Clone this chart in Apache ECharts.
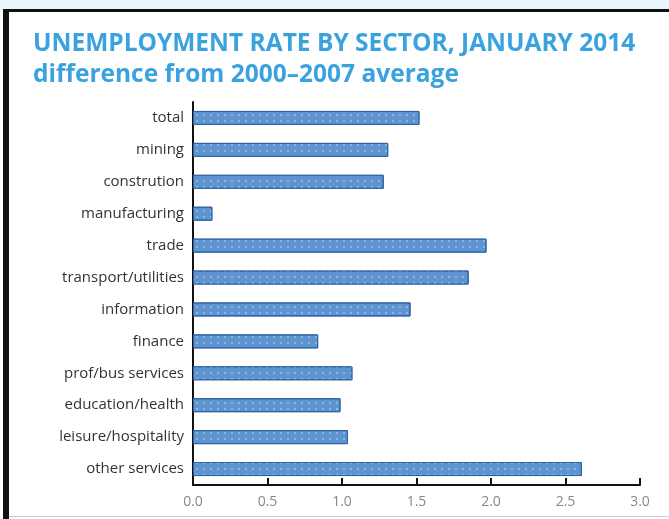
<!DOCTYPE html>
<html><head><meta charset="utf-8">
<script src="https://cdn.jsdelivr.net/npm/echarts@6/dist/echarts.min.js"></script>
<style>html,body{margin:0;padding:0;background:#fff}#c{width:669px;height:519px}</style>
</head><body><div id="c"></div>
<script>
const categories = ['total','mining','constrution','manufacturing','trade','transport/utilities','information','finance','prof/bus services','education/health','leisure/hospitality','other services'];
const values = [1.52,1.31,1.28,0.13,1.97,1.85,1.46,0.84,1.07,0.99,1.04,2.61];
const xTicks = [0,0.5,1.0,1.5,2.0,2.5,3.0];

const chart = echarts.init(document.getElementById('c'));
chart.setOption({
  animation:false,
  backgroundColor:'#fff',
  graphic:[
    {type:'rect',shape:{x:0,y:0,width:669,height:10},style:{fill:'#eaf5fc'},silent:true},
    {type:'rect',shape:{x:3,y:9,width:666,height:3},style:{fill:'#111'},silent:true},
    {type:'rect',shape:{x:3,y:9,width:6,height:510},style:{fill:'#111'},silent:true},
    {type:'rect',shape:{x:9,y:516,width:660,height:1},style:{fill:'#ccc'},silent:true}
  ],
  title:[
    {text:'UNEMPLOYMENT RATE BY SECTOR, JANUARY 2014',left:28,top:27,
     textStyle:{fontFamily:'Open Sans',fontWeight:'bold',fontSize:24.5,color:'#3aa2de'}},
    {text:'difference from 2000–2007 average',left:28,top:58,
     textStyle:{fontFamily:'Open Sans',fontWeight:'bold',fontSize:24.5,color:'#3aa2de'}}
  ],
  grid:{left:193,right:29,top:102,bottom:34},
  xAxis:{type:'value',min:0,max:3,interval:0.5,
    axisLine:{show:true,lineStyle:{color:'#111',width:2}},
    axisTick:{show:true,inside:true,length:7,lineStyle:{color:'#111',width:2}},
    splitLine:{show:false},
    axisLabel:{color:'#888',fontSize:14,fontFamily:'Open Sans',margin:10,
      formatter:v=>{const t=xTicks.find(x=>Math.abs(x-v)<1e-9);return (t!==undefined?t:v).toFixed(1);}}
  },
  yAxis:{type:'category',data:categories,inverse:true,
    axisLine:{show:true,lineStyle:{color:'#111',width:2}},
    axisTick:{show:false},
    axisLabel:{color:'#333',fontSize:15,fontFamily:'Open Sans',margin:9}
  },
  series:[{type:'bar',data:values,barWidth:14,
    itemStyle:{color:'#5f94d0',borderColor:'#2f63a3',borderWidth:1,
      decal:{symbol:'circle',symbolSize:1,color:'rgba(140,215,240,0.8)',dashArrayX:[2,5],dashArrayY:[2,4],rotation:0}}
  }]
});
</script></body></html>
